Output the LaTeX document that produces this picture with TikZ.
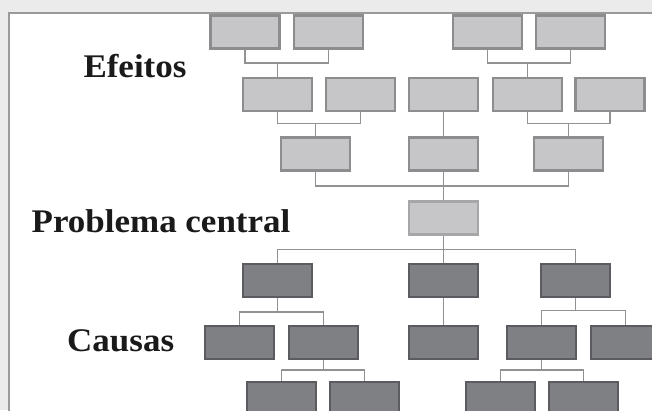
\documentclass[tikz,border=0pt]{standalone}
\usepackage{fontspec}
\setmainfont{Liberation Serif}
\definecolor{pagebg}{HTML}{EBEBEB}
\definecolor{framec}{HTML}{9A9A9A}
\definecolor{lightfill}{HTML}{C6C6C8}
\definecolor{lightedge}{HTML}{8D8D8F}
\definecolor{coreedge}{HTML}{A6A6A8}
\definecolor{darkfill}{HTML}{7F8084}
\definecolor{darkedge}{HTML}{5C5C60}
\definecolor{linkc}{HTML}{929292}
\definecolor{titlec}{HTML}{1A1A1A}
\tikzset{
  box/.style={rectangle, minimum width=69pt, minimum height=33pt, inner sep=0pt, line width=2.2pt},
  effbox/.style={box, fill=lightfill, draw=lightedge},
  corebox/.style={box, fill=lightfill, draw=coreedge},
  causebox/.style={box, fill=darkfill, draw=darkedge},
  conn/.style={draw=linkc, line width=1.3pt},
  title/.style={font=\bfseries\fontsize{33}{36}\selectfont, text=titlec, anchor=base, inner sep=0pt, xscale=1.06}
}
\begin{document}
\begin{tikzpicture}[x=1pt, y=-1pt]
\useasboundingbox (0,0) rectangle (652,410);
% page and frame
\fill[pagebg] (0,0) rectangle (652,410);
\filldraw[fill=white, draw=framec, line width=2pt] (9,13) rectangle (700,460);

% effects, top row
\node[effbox] (e11) at (245.0,32) {};
\node[effbox] (e12) at (328.3,32) {};
\node[effbox] (e13) at (487.2,32) {};
\node[effbox] (e14) at (570.7,32) {};
% effects, second row
\node[effbox] (e21) at (277.7,94.2) {};
\node[effbox] (e22) at (360.2,94.2) {};
\node[effbox] (e23) at (443.7,94.2) {};
\node[effbox] (e24) at (527.2,94.2) {};
\node[effbox] (e25) at (610.0,94.2) {};
% effects, third row
\node[effbox] (e31) at (315.5,154) {};
\node[effbox] (e32) at (443.7,154) {};
\node[effbox] (e33) at (568.5,154) {};
% central problem
\node[corebox] (core) at (443.7,218) {};
% causes, first row
\node[causebox] (c11) at (277.7,280.3) {};
\node[causebox] (c12) at (443.7,280.3) {};
\node[causebox] (c13) at (575.8,280.3) {};
% causes, second row
\node[causebox] (c21) at (239.7,342.5) {};
\node[causebox] (c22) at (323.2,342.5) {};
\node[causebox] (c23) at (443.7,342.5) {};
\node[causebox] (c24) at (541.8,342.5) {};
\node[causebox] (c25) at (625.7,342.5) {};
% causes, third row
\node[causebox] (c31) at (281.3,398.5) {};
\node[causebox] (c32) at (364.7,398.5) {};
\node[causebox] (c33) at (500.3,398.5) {};
\node[causebox] (c34) at (583.7,398.5) {};

% links between effect rows
\draw[conn] (e11.south) |- (e12.south |- 0,63) -- (e12.south);
\draw[conn] (e21.north) -- (e21.north |- 0,63);
\draw[conn] (e13.south) |- (e14.south |- 0,63) -- (e14.south);
\draw[conn] (e24.north) -- (e24.north |- 0,63);
\draw[conn] (e21.south) |- (e22.south |- 0,123.3) -- (e22.south);
\draw[conn] (e31.north) -- (e31.north |- 0,123.3);
\draw[conn] (e23.south) -- (e32.north);
\draw[conn] (e24.south) |- (e25.south |- 0,123.3) -- (e25.south);
\draw[conn] (e33.north) -- (e33.north |- 0,123.3);
% effects to central problem
\draw[conn] (e31.south) |- (e33.south |- 0,186) -- (e33.south);
\draw[conn] (e32.south) -- (core.north);
% central problem to causes
\draw[conn] (core.south) -- (c12.north);
\draw[conn] (c11.north) |- (c13.north |- 0,249.3) -- (c13.north);
% links between cause rows
\draw[conn] (c11.south) -- (c11.south |- 0,312);
\draw[conn] (c21.north) |- (c22.north |- 0,312) -- (c22.north);
\draw[conn] (c12.south) -- (c23.north);
\draw[conn] (c13.south) -- (c13.south |- 0,310.3);
\draw[conn] (c24.north) |- (c25.north |- 0,310.3) -- (c25.north);
\draw[conn] (c22.south) -- (c22.south |- 0,370);
\draw[conn] (c31.north) |- (c32.north |- 0,370) -- (c32.north);
\draw[conn] (c24.south) -- (c24.south |- 0,370);
\draw[conn] (c33.north) |- (c34.north |- 0,370) -- (c34.north);

% row titles
\node[title] (tEff) at (135,77) {Efeitos};
\node[title] (tCore) at (161,232.7) {Problema central};
\node[title] (tCause) at (120.7,351) {Causas};
\end{tikzpicture}
\end{document}
